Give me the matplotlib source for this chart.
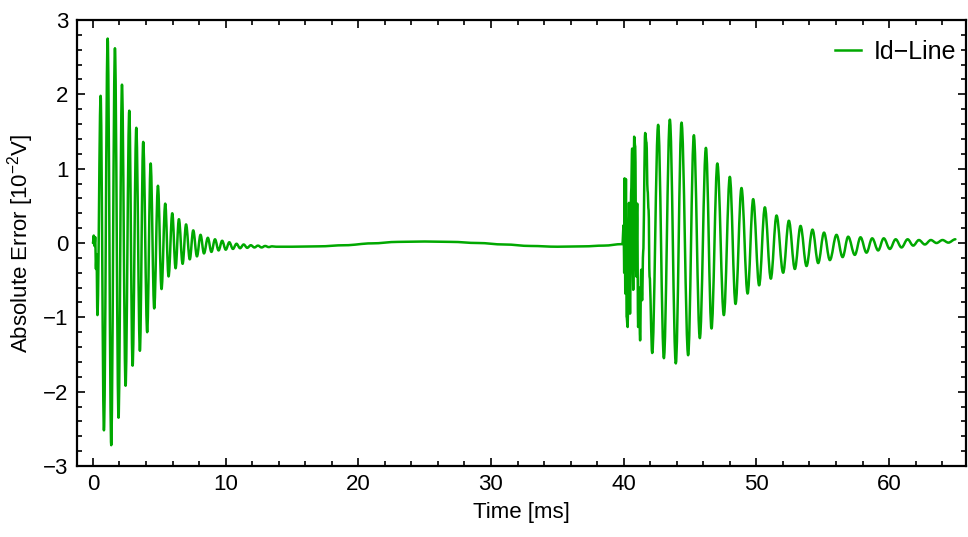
import numpy as np
import matplotlib.pyplot as plt
from matplotlib.ticker import MultipleLocator
from matplotlib.path import Path
from matplotlib.patches import PathPatch
from matplotlib.lines import Line2D

# Fuente tipo Arial, como en el original
plt.rcParams['font.family'] = ['Liberation Sans', 'DejaVu Sans']
plt.rcParams['mathtext.fontset'] = 'custom'
plt.rcParams['mathtext.rm'] = 'Liberation Sans'
plt.rcParams['mathtext.it'] = 'Liberation Sans:italic'

# Extremos (tiempo en ms, error en 10^-2 V)
# primer transitorio
burst1_t = [0.0, 0.06, 0.12, 0.17, 0.23, 0.27, 0.34, 0.58, 0.83, 1.11, 1.38, 1.66, 1.93,
            2.19, 2.46, 2.74, 2.99, 3.27, 3.54, 3.79, 4.09, 4.35, 4.62, 4.90, 5.17,
            5.45, 5.70, 5.98, 6.23, 6.48, 6.76, 7.02, 7.30, 7.56, 7.84, 8.11, 8.37,
            8.66, 8.93, 9.20, 9.47, 9.74, 10.01, 10.28, 10.55, 10.82, 11.09, 11.36,
            11.63, 11.90, 12.17, 12.44, 12.71, 12.98, 13.25, 13.50, 13.80]
burst1_v = [0.0, 0.10, -0.04, 0.08, -0.35, -0.15, -0.97, 1.98, -2.52, 2.75, -2.72, 2.62, -2.35,
            2.13, -1.92, 1.78, -1.65, 1.55, -1.45, 1.36, -1.20, 1.07, -0.88, 0.77, -0.62,
            0.53, -0.45, 0.40, -0.34, 0.32, -0.28, 0.25, -0.22, 0.17, -0.18, 0.11, -0.14,
            0.07, -0.12, 0.05, -0.10, 0.03, -0.09, 0.01, -0.08, -0.01, -0.07, -0.02,
            -0.065, -0.03, -0.06, -0.035, -0.06, -0.04, -0.055, -0.045, -0.05]

# deriva lenta entre transitorios
drift_t = [15.0, 17.0, 19.0, 21.0, 23.0, 25.0, 27.0, 29.0, 31.0, 33.0, 35.0, 37.0, 38.5, 39.9]
drift_v = [-0.05, -0.045, -0.03, -0.005, 0.015, 0.02, 0.015, 0.0, -0.02, -0.04, -0.05,
           -0.045, -0.035, -0.015]

# segundo transitorio
burst2_t = [40.0, 40.04, 40.07, 40.12, 40.17, 40.22, 40.30, 40.40, 40.48, 40.56, 40.64,
            40.72, 40.79, 40.87, 40.95, 41.02, 41.09, 41.16, 41.24, 41.32, 41.39, 41.47,
            41.62, 41.72, 41.80, 41.88, 41.95, 42.15, 42.60, 43.03, 43.48, 43.93, 44.36,
            44.86, 45.29, 45.74, 46.20, 46.62, 47.06, 47.55, 48.00, 48.43, 48.88, 49.34,
            49.76, 50.21, 50.64, 51.09, 51.52, 52.02, 52.45, 52.90, 53.33, 53.78, 54.23,
            54.66, 55.10, 55.54, 56.04, 56.50, 56.92, 57.42, 57.85, 58.30, 58.73, 59.18,
            59.60, 60.06, 60.50, 60.94, 61.40, 61.82, 62.25, 62.70, 63.15, 63.58, 64.03,
            64.47, 65.0]
burst2_v = [0.24, -0.40, 0.87, -0.68, 0.86, -0.99, -1.13, 0.54, -0.95, 0.67, 1.27,
            -0.63, 1.43, 1.30, -0.45, 0.53, -1.13, -0.60, -1.31, -0.36, -0.77, -0.12,
            1.48, 1.35, 0.71, 0.44, -0.45, -1.48, 1.59, -1.55, 1.66, -1.62, 1.62,
            -1.51, 1.45, -1.28, 1.28, -1.15, 1.07, -0.97, 0.89, -0.82, 0.74, -0.68,
            0.59, -0.57, 0.48, -0.48, 0.37, -0.40, 0.30, -0.35, 0.23, -0.31, 0.18,
            -0.27, 0.14, -0.23, 0.11, -0.19, 0.085, -0.16, 0.077, -0.13, 0.063, -0.10,
            0.063, -0.08, 0.05, -0.06, 0.05, -0.035, 0.04, -0.02, 0.04, 0.0, 0.04,
            0.005, 0.05]

t = np.concatenate([burst1_t, drift_t, burst2_t])
err = np.concatenate([burst1_v, drift_v, burst2_v])

line_color = '#00a800'

fig = plt.figure(figsize=(9.68, 5.37), dpi=100)
ax = fig.add_axes([77 / 968, 1 - 466 / 537, (966 - 77) / 968, (466 - 20) / 537])

# curva suave entre extremos (Bezier con tangente horizontal en cada punto)
verts = [(t[0], err[0])]
codes = [Path.MOVETO]
for i in range(1, len(t)):
    dt = t[i] - t[i - 1]
    verts += [(t[i - 1] + 0.36 * dt, err[i - 1]), (t[i] - 0.36 * dt, err[i]), (t[i], err[i])]
    codes += [Path.CURVE4] * 3
ax.add_patch(PathPatch(Path(verts, codes), fill=False, edgecolor=line_color, lw=1.8,
                       joinstyle='round', capstyle='round'))

ax.set_xlim(-1.2, 65.8)
ax.set_ylim(-3, 3)
ax.xaxis.set_major_locator(MultipleLocator(10))
ax.xaxis.set_minor_locator(MultipleLocator(2))
ax.yaxis.set_major_locator(MultipleLocator(1))
ax.yaxis.set_minor_locator(MultipleLocator(0.2))
ax.tick_params(which='both', direction='in', top=True, right=True, width=1.2,
               labelsize=16, pad=6)
ax.tick_params(which='major', length=6)
ax.tick_params(which='minor', length=3.5)
for s in ax.spines.values():
    s.set_linewidth(1.6)

ax.set_xlabel('Time [ms]', fontsize=16, labelpad=5)
ax.set_ylabel('Absolute Error [10$^{-2}$V]', fontsize=16, labelpad=5)

handle = Line2D([], [], color=line_color, lw=1.8)
ax.legend([handle], ['Id\u2212Line'], loc='upper right', bbox_to_anchor=(1.003, 0.984),
          frameon=False, fontsize=18, handlelength=1.05, handletextpad=0.5,
          borderaxespad=0.1)

fig.savefig('out.png', dpi=100)
